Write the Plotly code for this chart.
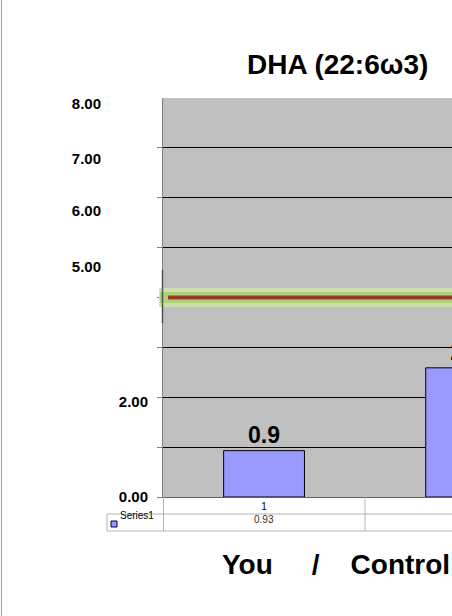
import plotly.graph_objects as go

# ---- data ----
categories = ["1", "2"]
values = [0.93, 2.59]
bar_labels = ["0.9", "2.6"]
series_name = "Series1"
reference_level = 4.0
grid_vals = [0, 1, 2, 3, 4, 5, 6, 7]
upper_tick_pos = [4.62, 5.74, 6.79, 7.88]
upper_tick_text = ["5.00", "6.00", "7.00", "8.00"]
lower_tick_pos = [0.0, 1.91]
lower_tick_text = ["0.00", "2.00"]
title_text = "DHA (22:6\u03c93)"
xtitle_text = "You\u00a0\u00a0\u00a0\u00a0\u00a0/\u00a0\u00a0\u00a0\u00a0Control"

W, H = 452, 616
PL, PR, PT, PB = 163, 452, 98, 497  # plot area in px

def px(x):
    return x / W

def py(y):
    return 1 - y / H

FONT = "Arial, Liberation Sans, sans-serif"

fig = go.Figure()
fig.add_trace(go.Bar(
    x=categories, y=values, width=0.4,
    marker=dict(color="#9999ff", line=dict(color="#000000", width=1)),
    text=bar_labels, textposition="outside", cliponaxis=True,
    textfont=dict(family=FONT, size=23, color="#000000", weight="bold"),
    name=series_name, showlegend=False,
))
# invisible carriers so the label axes are drawn
for ax in ("y2", "y3"):
    fig.add_trace(go.Scatter(x=categories, y=values, yaxis=ax, mode="none",
                             showlegend=False, hoverinfo="skip"))

shapes = []
# reference glow line
shapes.append(dict(type="line", xref="paper", yref="y", x0=px(159), x1=1,
                   y0=reference_level, y1=reference_level,
                   line=dict(color="rgba(205,226,170,0.9)", width=19), layer="above"))
shapes.append(dict(type="line", xref="paper", yref="y", x0=px(160), x1=1,
                   y0=reference_level, y1=reference_level,
                   line=dict(color="rgba(170,206,118,0.9)", width=11), layer="above"))
shapes.append(dict(type="line", xref="paper", yref="y", x0=px(168), x1=1,
                   y0=reference_level, y1=reference_level,
                   line=dict(color="#b46a48", width=4.5), layer="above"))
shapes.append(dict(type="line", xref="paper", yref="y", x0=px(168), x1=1,
                   y0=reference_level, y1=reference_level,
                   line=dict(color="#98301f", width=2.5), layer="above"))
# dark segment on axis
shapes.append(dict(type="line", xref="paper", yref="paper", x0=px(162.5), x1=px(162.5),
                   y0=py(270), y1=py(323), line=dict(color="#505050", width=1.5)))
# data table lines
tbl = "#b4b4b4"
shapes += [
    dict(type="line", xref="paper", yref="paper", x0=px(107), x1=1, y0=py(514), y1=py(514), line=dict(color=tbl, width=1)),
    dict(type="line", xref="paper", yref="paper", x0=px(107), x1=1, y0=py(531), y1=py(531), line=dict(color=tbl, width=1)),
    dict(type="line", xref="paper", yref="paper", x0=px(107), x1=px(107), y0=py(514), y1=py(531), line=dict(color=tbl, width=1)),
    dict(type="line", xref="paper", yref="paper", x0=px(163.5), x1=px(163.5), y0=py(497), y1=py(531), line=dict(color=tbl, width=1)),
    dict(type="line", xref="paper", yref="paper", x0=px(365), x1=px(365), y0=py(497), y1=py(531), line=dict(color=tbl, width=1)),
    # legend key
    dict(type="rect", xref="paper", yref="paper", x0=px(111), x1=px(117), y0=py(527), y1=py(521),
         fillcolor="#9999ff", line=dict(color="#000040", width=1)),
    # chart border (left)
    dict(type="line", xref="paper", yref="paper", x0=px(1.5), x1=px(1.5), y0=0, y1=1, line=dict(color="#a0a0a0", width=1)),
]

annotations = [
    dict(text=title_text, xref="paper", yref="paper", x=px(337.5), y=py(64.5),
         xanchor="center", yanchor="middle", showarrow=False,
         font=dict(family=FONT, size=28, color="#000000", weight="bold")),
    dict(text=xtitle_text, xref="paper", yref="paper", x=px(220), y=py(564.5),
         xanchor="left", yanchor="middle", showarrow=False,
         font=dict(family=FONT, size=28, color="#000000", weight="bold")),
    dict(text=series_name, xref="paper", yref="paper", x=px(118), y=py(515),
         xanchor="left", yanchor="middle", showarrow=False,
         font=dict(family=FONT, size=10, color="#000000")),
]
for i, v in enumerate(values[:1]):
    annotations.append(dict(text=f"{v:.2f}", xref="x", yref="paper", x=i, y=py(519),
                            xanchor="center", yanchor="middle", showarrow=False,
                            font=dict(family=FONT, size=10, color="#333333")))

fig.update_layout(
    width=W, height=H, margin=dict(l=0, r=0, t=0, b=0, autoexpand=False),
    paper_bgcolor="#ffffff", plot_bgcolor="#c0c0c0",
    showlegend=False, bargap=0.6,
    shapes=shapes, annotations=annotations,
    xaxis=dict(type="category", domain=[px(PL), px(PR)], range=[-0.5, 0.93],
               showgrid=False, zeroline=False, showline=True, linecolor="#606060", linewidth=1,
               ticks="", tickfont=dict(family=FONT, size=10, color="#000000"),
               fixedrange=True),
    yaxis=dict(domain=[py(PB), py(PT)], range=[0, 8], tickvals=grid_vals,
               showticklabels=False, showgrid=True, gridcolor="#000000", gridwidth=1,
               zeroline=False, showline=True, linecolor="#808080", linewidth=1,
               ticks="outside", ticklen=5, tickcolor="#808080", fixedrange=True),
    yaxis2=dict(overlaying="y", anchor="free", position=px(101), side="left", range=[0, 8],
                tickvals=upper_tick_pos, ticktext=upper_tick_text, showgrid=False, zeroline=False,
                showline=False, ticks="", fixedrange=True,
                tickfont=dict(family=FONT, size=15, color="#000000", weight="bold")),
    yaxis3=dict(overlaying="y", anchor="free", position=px(148), side="left", range=[0, 8],
                tickvals=lower_tick_pos, ticktext=lower_tick_text, showgrid=False, zeroline=False,
                showline=False, ticks="", fixedrange=True,
                tickfont=dict(family=FONT, size=15, color="#000000", weight="bold")),
)

fig.write_html("out.html", config={"displayModeBar": False})
